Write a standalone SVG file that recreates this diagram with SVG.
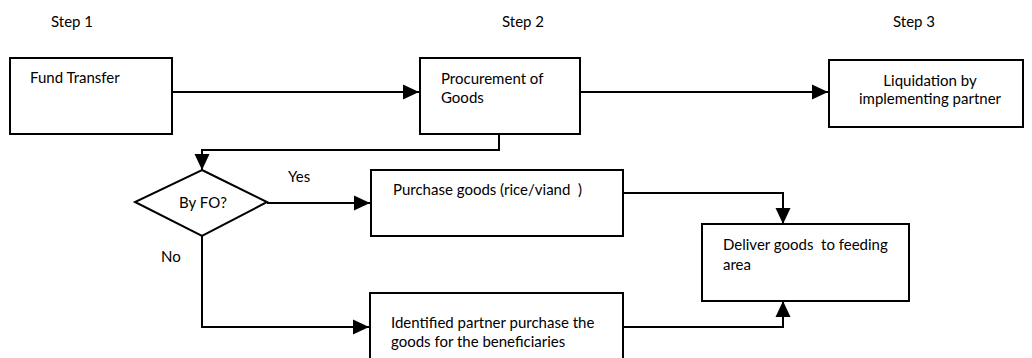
<svg xmlns="http://www.w3.org/2000/svg" width="1032" height="358" viewBox="0 0 1032 358">
  <style>
    text { font-family: Lato, "Open Sans", "Liberation Sans", sans-serif; font-size: 15px; fill: #000; }
    .box { fill: #fff; stroke: #000; stroke-width: 2; }
    .link { fill: none; stroke: #000; stroke-width: 2; }
  </style>
  <defs>
    <marker id="arrow" markerUnits="userSpaceOnUse" markerWidth="16" markerHeight="16" viewBox="0 0 16 16" refX="16" refY="8" orient="auto">
      <path d="M0,0.5 L16,8 L0,15.5 Z" fill="#000"/>
    </marker>
  </defs>

  <!-- step headings -->
  <g id="headings">
    <text x="51" y="27">Step 1</text>
    <text x="502" y="27">Step 2</text>
    <text x="893" y="27">Step 3</text>
  </g>

  <g id="connectors">
    <line class="link" x1="172" y1="92" x2="419" y2="92" marker-end="url(#arrow)"/>
    <line class="link" x1="580" y1="92" x2="828" y2="92" marker-end="url(#arrow)"/>
    <polyline class="link" points="499,134 499,150 202,150 202,170" marker-end="url(#arrow)"/>
    <line class="link" x1="267" y1="203" x2="370" y2="203" marker-end="url(#arrow)"/>
    <polyline class="link" points="202,236 202,327 369,327" marker-end="url(#arrow)"/>
    <polyline class="link" points="623,193 783,193 783,224" marker-end="url(#arrow)"/>
    <polyline class="link" points="623,327 783,327 783,301" marker-end="url(#arrow)"/>
  </g>

  <g id="fund-transfer">
    <rect class="box" x="10" y="58" width="162" height="76"/>
    <text x="30" y="83">Fund Transfer</text>
  </g>

  <g id="procurement">
    <rect class="box" x="420" y="58" width="160" height="76"/>
    <text x="441" y="84">Procurement of</text>
    <text x="441" y="103">Goods</text>
  </g>

  <g id="liquidation">
    <rect class="box" x="829" y="60" width="194" height="67"/>
    <text x="930" y="86" text-anchor="middle">Liquidation by</text>
    <text x="930" y="104" text-anchor="middle">implementing partner</text>
  </g>

  <g id="by-fo">
    <polygon class="box" points="202,170 267,202 202,236 135,202"/>
    <text x="203" y="208" text-anchor="middle">By FO?</text>
  </g>

  <g id="edge-labels">
    <text x="288" y="182">Yes</text>
    <text x="161" y="262">No</text>
  </g>

  <g id="purchase-goods">
    <rect class="box" x="371" y="170" width="252" height="66"/>
    <text x="393" y="195" xml:space="preserve">Purchase goods (rice/viand  )</text>
  </g>

  <g id="partner-purchase">
    <rect class="box" x="370" y="293" width="253" height="80"/>
    <text x="391" y="328">Identified partner purchase the</text>
    <text x="391" y="347">goods for the beneficiaries</text>
  </g>

  <g id="deliver-goods">
    <rect class="box" x="702" y="224" width="207" height="77"/>
    <text x="723" y="250" xml:space="preserve">Deliver goods  to feeding</text>
    <text x="723" y="270">area</text>
  </g>
</svg>
